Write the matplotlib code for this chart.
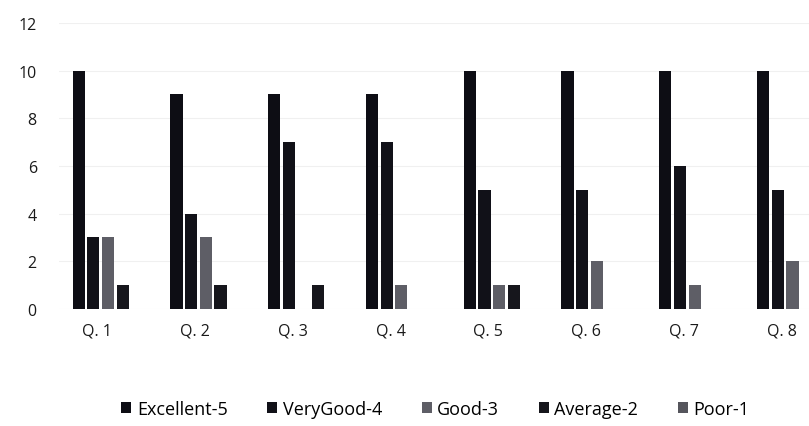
import matplotlib.pyplot as plt
import numpy as np

plt.rcParams['font.family'] = ['Open Sans', 'DejaVu Sans']

# data
questions = ['Q. 1', 'Q. 2', 'Q. 3', 'Q. 4', 'Q. 5', 'Q. 6', 'Q. 7', 'Q. 8']
excellent = [10, 9, 9, 9, 10, 10, 10, 10]
verygood = [3, 4, 7, 7, 5, 5, 6, 5]
good = [3, 3, 0, 1, 1, 2, 1, 2]
average = [1, 1, 1, 0, 1, 0, 0, 0]
poor = [0, 0, 0, 0, 0, 0, 0, 0]

series = [excellent, verygood, good, average, poor]
names = ['Excellent-5', 'VeryGood-4', 'Good-3', 'Average-2', 'Poor-1']
colors = ['#0d0d14', '#111118', '#5e5e66', '#16161c', '#55555c']

fig = plt.figure(figsize=(8.09, 4.27), dpi=100)
ax = fig.add_axes([0.073, 0.274, 0.967, 0.670])

x = np.arange(len(questions))
step = 0.15
width = 0.125
for i in range(len(series)):
    ax.bar(x + (i - 2) * step, series[i], width, color=colors[i], label=names[i], zorder=3)

ax.set_xlim(-0.5, 7.5)
ax.set_ylim(0, 12)
ax.set_yticks(range(0, 13, 2))
ax.set_xticks(x - 0.11)
ax.set_xticklabels(questions)
ax.yaxis.grid(True, color='#f0f0f0', linewidth=0.8, zorder=0)
ax.tick_params(axis='both', length=0, labelsize=11.5, colors='#1a1a1a')
ax.tick_params(axis='y', pad=16)
ax.tick_params(axis='x', pad=10)
for s in ax.spines.values():
    s.set_visible(False)

fig.legend(loc='center', bbox_to_anchor=(0.538, 0.04), ncol=5, frameon=False,
           fontsize=13, handlelength=0.55, handleheight=0.55, handletextpad=0.3,
           columnspacing=2.2)

fig.savefig('out.png', dpi=100)
